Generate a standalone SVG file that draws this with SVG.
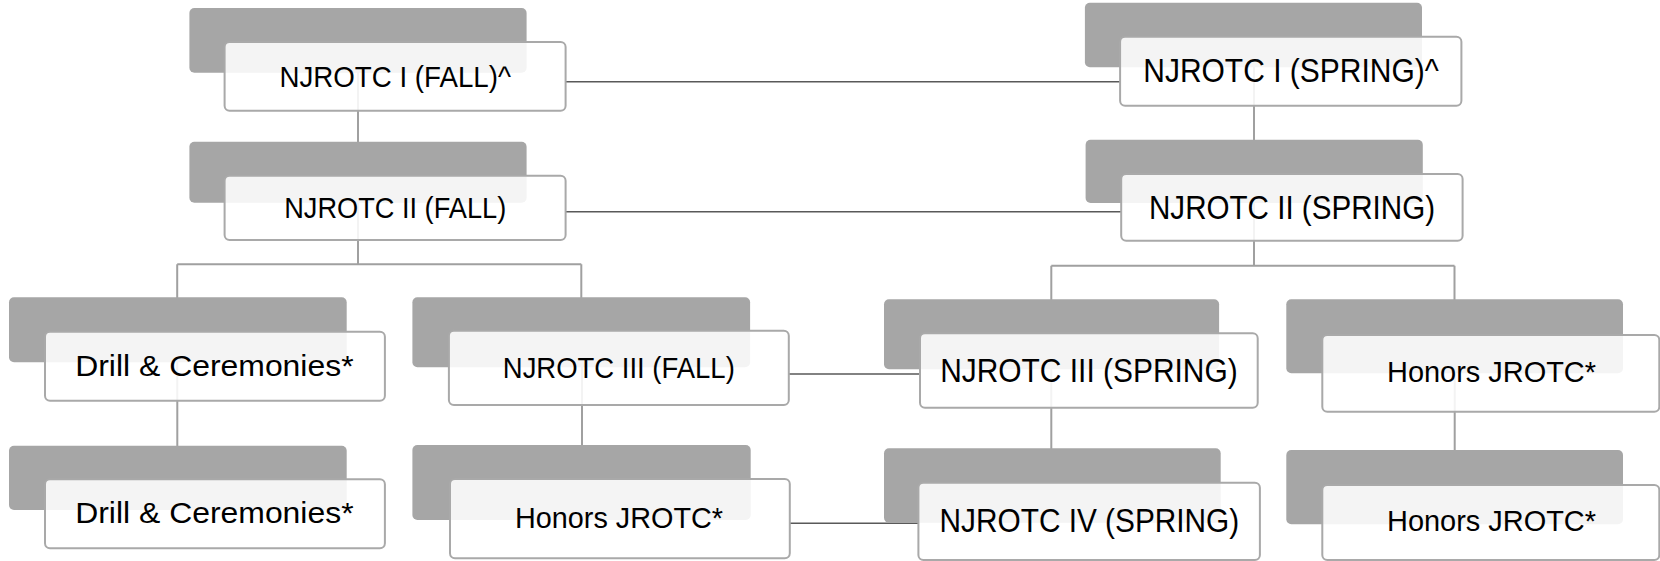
<svg xmlns="http://www.w3.org/2000/svg" width="1660" height="561" viewBox="0 0 1660 561">
<style>
.bg{fill:#ffffff}
.sh{fill:#a6a6a6}
.bx{fill:#ffffff;fill-opacity:0.87;stroke:#a9a9a9;stroke-width:2}
.tr{stroke:#a0a0a0;stroke-width:2;fill:none}
.cr{stroke:#595959;stroke-width:1.6;fill:none}
.t{font-family:"Liberation Sans",Arial,sans-serif;font-size:30px;fill:#000000;text-anchor:middle}
.t2{font-size:33px}
</style>
<rect class="bg" x="0" y="0" width="1660" height="561"/>
<g id="connectors">
<path class="tr" d="M358 72V142"/>
<path class="tr" d="M358 203V264.3M177.2 264.3H581.3M177.2 264.3V298M581.3 264.3V298"/>
<path class="tr" d="M177.3 362V446"/>
<path class="tr" d="M582 367V445"/>
<path class="tr" d="M1254 67V140"/>
<path class="tr" d="M1254 203V265.7M1051.3 265.7H1454.5M1051.3 265.7V300M1454.5 265.7V300"/>
<path class="tr" d="M1051.3 369V449"/>
<path class="tr" d="M1454.7 373V450"/>
<path class="cr" d="M565.6 81.7H1120.1"/>
<path class="cr" d="M565.6 211.7H1121.2"/>
<path class="cr" d="M788.8 374H920"/>
<path class="cr" d="M789.8 523.3H918.4"/>
</g>
<g id="n-njrotc1-fall">
<rect class="sh" x="189.4" y="8" width="337.2" height="64.7" rx="5"/>
<rect class="bx" x="224.6" y="42" width="341" height="68.7" rx="5"/>
<text class="t" x="395.2" y="87" textLength="231.5" lengthAdjust="spacingAndGlyphs">NJROTC I (FALL)^</text>
</g>
<g id="n-njrotc2-fall">
<rect class="sh" x="189.4" y="141.7" width="337.2" height="61" rx="5"/>
<rect class="bx" x="224.6" y="175.7" width="341" height="64.3" rx="5"/>
<text class="t" x="395.2" y="218.3" textLength="222" lengthAdjust="spacingAndGlyphs">NJROTC II (FALL)</text>
</g>
<g id="n-njrotc1-spring">
<rect class="sh" x="1084.9" y="2.7" width="337.1" height="64.6" rx="5"/>
<rect class="bx" x="1120.1" y="36.7" width="341.3" height="69" rx="5"/>
<text class="t t2" x="1291" y="82" textLength="295.5" lengthAdjust="spacingAndGlyphs">NJROTC I (SPRING)^</text>
</g>
<g id="n-njrotc2-spring">
<rect class="sh" x="1085.6" y="139.7" width="337.2" height="63.3" rx="5"/>
<rect class="bx" x="1121.2" y="174" width="341.4" height="66.7" rx="5"/>
<text class="t t2" x="1292" y="219" textLength="286" lengthAdjust="spacingAndGlyphs">NJROTC II (SPRING)</text>
</g>
<g id="n-drill1">
<rect class="sh" x="9" y="297.3" width="337.7" height="65" rx="5"/>
<rect class="bx" x="45" y="331.7" width="339.9" height="69" rx="5"/>
<text class="t" x="214.4" y="376" textLength="278.4" lengthAdjust="spacingAndGlyphs">Drill &amp; Ceremonies*</text>
</g>
<g id="n-drill2">
<rect class="sh" x="9" y="445.7" width="337.7" height="64.3" rx="5"/>
<rect class="bx" x="45" y="479.3" width="339.9" height="69" rx="5"/>
<text class="t" x="214.4" y="523.3" textLength="278.4" lengthAdjust="spacingAndGlyphs">Drill &amp; Ceremonies*</text>
</g>
<g id="n-njrotc3-fall">
<rect class="sh" x="412.4" y="297.3" width="337.7" height="70" rx="5"/>
<rect class="bx" x="448.9" y="330.7" width="339.9" height="74.3" rx="5"/>
<text class="t" x="618.8" y="378.3" textLength="232" lengthAdjust="spacingAndGlyphs">NJROTC III (FALL)</text>
</g>
<g id="n-honors-fall">
<rect class="sh" x="412.4" y="445" width="338.3" height="75" rx="5"/>
<rect class="bx" x="450" y="479" width="339.8" height="79.3" rx="5"/>
<text class="t" x="619" y="528.3" textLength="208" lengthAdjust="spacingAndGlyphs">Honors JROTC*</text>
</g>
<g id="n-njrotc3-spring">
<rect class="sh" x="884" y="299.3" width="335.1" height="70" rx="5"/>
<rect class="bx" x="920" y="333.3" width="337.7" height="74.4" rx="5"/>
<text class="t t2" x="1088.9" y="381.5" textLength="297.5" lengthAdjust="spacingAndGlyphs">NJROTC III (SPRING)</text>
</g>
<g id="n-njrotc4-spring">
<rect class="sh" x="884" y="448.3" width="336.7" height="74.4" rx="5"/>
<rect class="bx" x="918.4" y="482.7" width="341.5" height="77.3" rx="5"/>
<text class="t t2" x="1089.4" y="532" textLength="299.6" lengthAdjust="spacingAndGlyphs">NJROTC IV (SPRING)</text>
</g>
<g id="n-honors-r1">
<rect class="sh" x="1286.3" y="299.3" width="336.7" height="74" rx="5"/>
<rect class="bx" x="1322.3" y="335" width="337" height="76.7" rx="5"/>
<text class="t" x="1491.5" y="381.7" textLength="209" lengthAdjust="spacingAndGlyphs">Honors JROTC*</text>
</g>
<g id="n-honors-r2">
<rect class="sh" x="1286.3" y="450" width="336.7" height="74.3" rx="5"/>
<rect class="bx" x="1322.3" y="485" width="337" height="75" rx="5"/>
<text class="t" x="1491.5" y="530.5" textLength="209" lengthAdjust="spacingAndGlyphs">Honors JROTC*</text>
</g>
</svg>
